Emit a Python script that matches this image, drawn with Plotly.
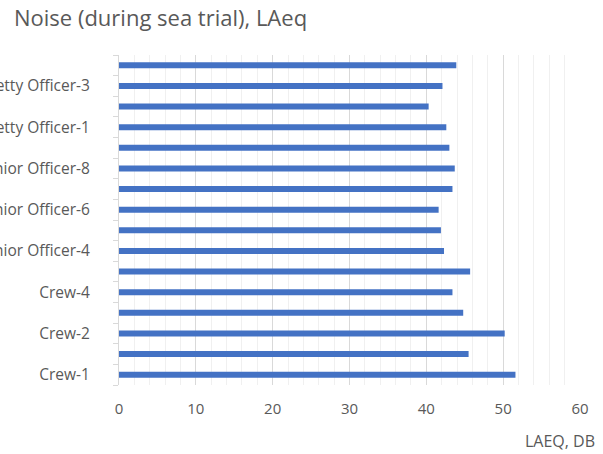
import plotly.graph_objects as go

# Cabin positions, bottom to top as they sit on the category axis
cabins = [
    "Crew-1", "Crew-1A", "Crew-2", "Crew-3", "Crew-4", "Junior Officer-3",
    "Junior Officer-4", "Junior Officer-5", "Junior Officer-6", "Junior Officer-7",
    "Junior Officer-8", "Junior Officer-9", "Petty Officer-1", "Petty Officer-2",
    "Petty Officer-3", "Petty Officer-4",
]
# Measured equivalent continuous sound level, dB(A)
laeq = [51.6, 45.5, 50.2, 44.8, 43.4, 45.7, 42.3, 41.9,
        41.6, 43.4, 43.7, 43.0, 42.6, 40.3, 42.1, 43.9]
# Only every other cabin name fits on the axis
shown_labels = [c if i % 2 == 0 else "" for i, c in enumerate(cabins)]

x_ticks = [0, 10, 20, 30, 40, 50, 60]

FONT = "Open Sans"
GREY_TEXT = "#595959"

fig = go.Figure(
    go.Bar(
        x=laeq,
        y=cabins,
        orientation="h",
        marker=dict(color="#4472C4", line=dict(width=0)),
        width=0.29,
    )
)

fig.update_layout(
    width=603,
    height=454,
    margin=dict(l=118.5, r=23, t=55, b=69),
    paper_bgcolor="white",
    plot_bgcolor="white",
    showlegend=False,
    font=dict(family=FONT, color=GREY_TEXT, size=15),
    title=dict(
        text="Noise (during sea trial), LAeq",
        x=14 / 603, xanchor="left",
        y=1 - 18 / 454, yanchor="middle",
        font=dict(family=FONT, size=22, color=GREY_TEXT),
    ),
    annotations=[
        dict(
            text="LAEQ, DB",
            xref="paper", yref="paper",
            x=1 + 17 / 461.5, xanchor="right",
            y=-56 / 330, yanchor="middle",
            showarrow=False,
            font=dict(family=FONT, size=16, color=GREY_TEXT),
        )
    ],
)

fig.update_xaxes(
    range=[0, 60],
    tickvals=x_ticks,
    ticktext=[str(v) for v in x_ticks],
    showgrid=True,
    gridcolor="#d9d9d9",
    gridwidth=1,
    minor=dict(dtick=2, showgrid=True, gridcolor="#f0f0f0", gridwidth=1),
    zeroline=False,
    showline=False,
    ticks="",
    ticklabelstandoff=13,
    tickfont=dict(family=FONT, size=15, color=GREY_TEXT),
    fixedrange=True,
)

fig.update_yaxes(
    type="category",
    categoryorder="array",
    categoryarray=cabins,
    tickvals=cabins,
    ticktext=shown_labels,
    range=[-0.5, len(cabins) - 0.5],
    tickson="boundaries",
    ticks="outside",
    ticklen=5,
    tickcolor="#d9d9d9",
    showline=True,
    linecolor="#d9d9d9",
    linewidth=1,
    showgrid=False,
    zeroline=False,
    automargin=False,
    ticklabelstandoff=25,
    tickfont=dict(family=FONT, size=15.5, color=GREY_TEXT),
    fixedrange=True,
)

fig.write_html("out.html")
